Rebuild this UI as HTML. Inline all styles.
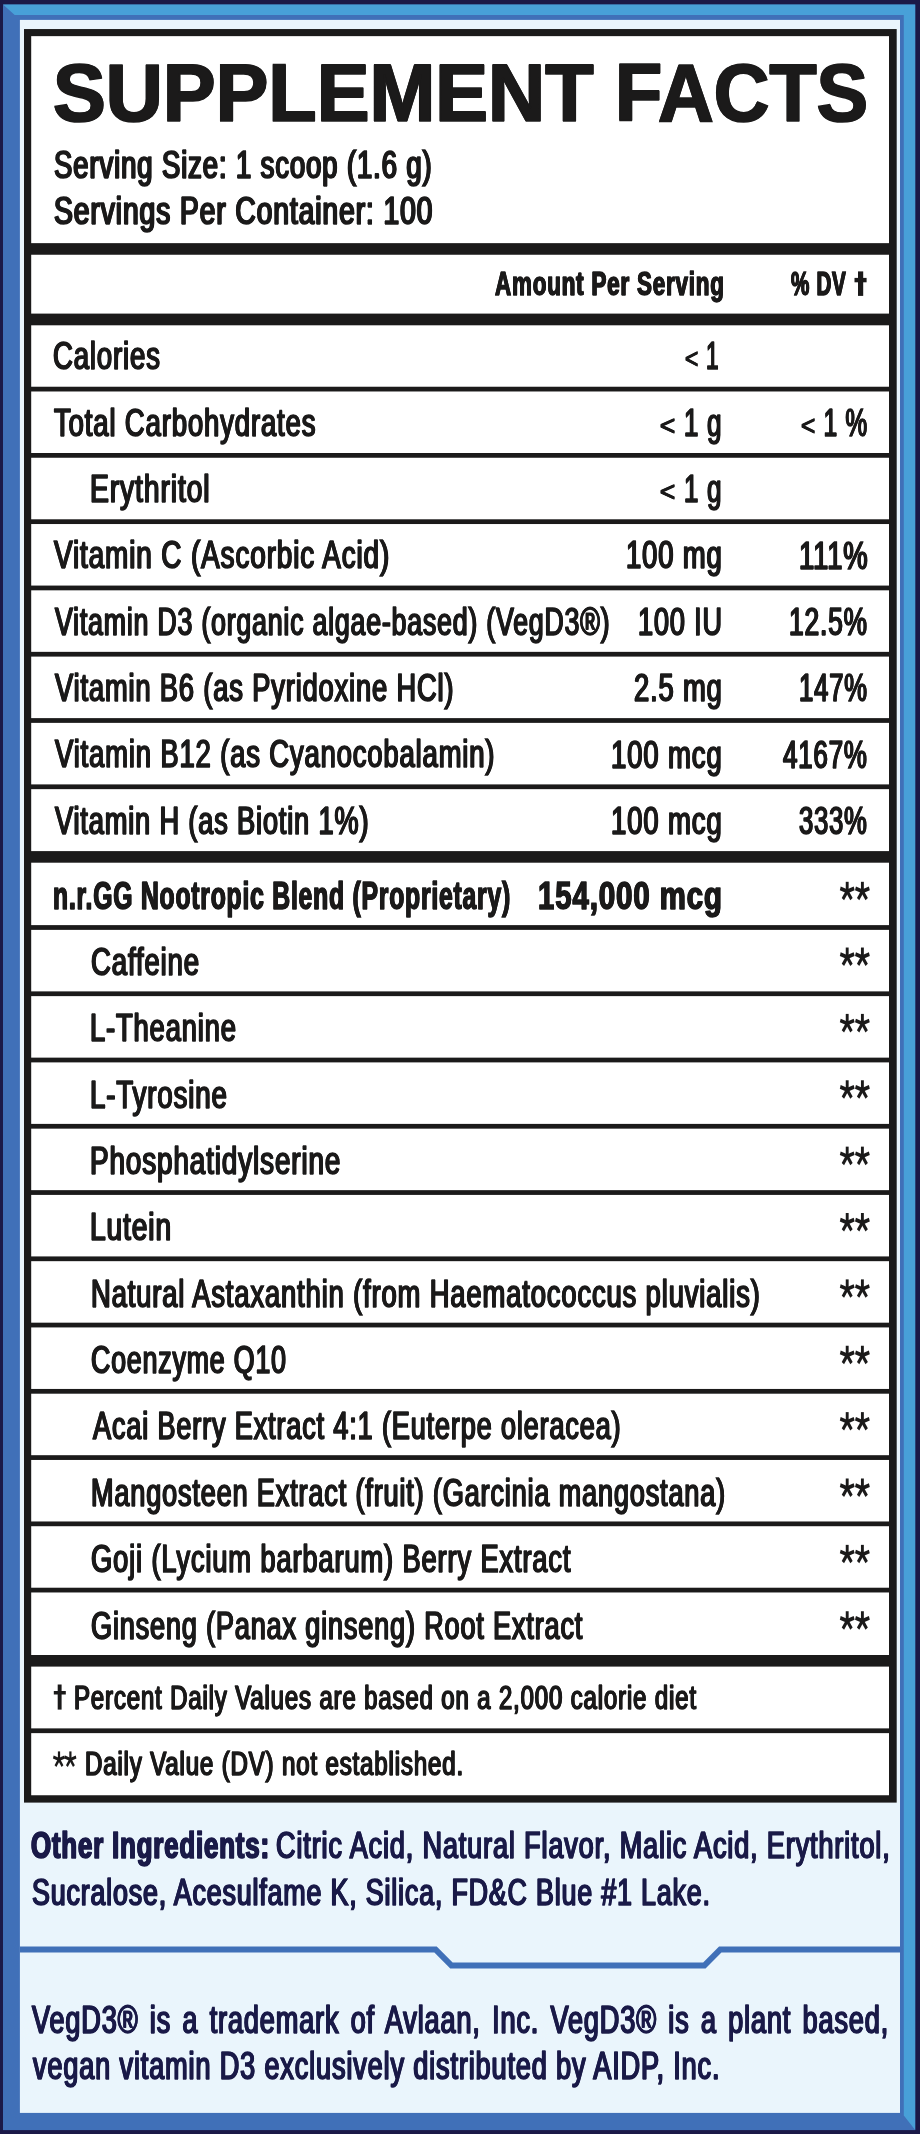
<!DOCTYPE html>
<html><head><meta charset="utf-8"><title>Supplement Facts</title>
<style>
html,body{margin:0;padding:0;}
body{width:920px;height:2134px;position:relative;overflow:hidden;background:#1b1948;font-family:"Liberation Sans",sans-serif;}
svg{position:absolute;left:0;top:0;}
#txt{position:absolute;left:0;top:0;width:920px;height:2134px;will-change:transform;}
.t{position:absolute;white-space:nowrap;line-height:1;transform-origin:0 0;margin:0;padding:0;}
</style></head><body>
<svg width="920" height="2134" viewBox="0 0 920 2134"><rect x="0" y="0" width="920" height="2134" fill="#1b1948"/><rect x="3" y="4.6" width="912.2" height="2125.5" fill="#4070b8"/><polygon points="3,4.6 915.2,4.6 915.2,2130.1 903.8,2115.5 903.8,15 14.7,15" fill="#48a0d8"/><rect x="19.9" y="19.9" width="880.1" height="2093" fill="#eaf5fc"/><polyline points="19.8,1949.5 435.5,1949.5 451.5,1965.6 704.3,1965.6 720.3,1949.5 900,1949.5" fill="none" stroke="#4070b8" stroke-width="6"/><rect x="24.0" y="29.05" width="872.7" height="1773.55" fill="#1b1a1a"/><rect x="31.2" y="36.15" width="857.8" height="1759.1" fill="#fff"/><rect x="30" y="386.73" width="860" height="4.75" fill="#1b1a1a"/><rect x="30" y="453.00" width="860" height="4.75" fill="#1b1a1a"/><rect x="30" y="519.29" width="860" height="4.75" fill="#1b1a1a"/><rect x="30" y="585.57" width="860" height="4.75" fill="#1b1a1a"/><rect x="30" y="651.85" width="860" height="4.75" fill="#1b1a1a"/><rect x="30" y="718.12" width="860" height="4.75" fill="#1b1a1a"/><rect x="30" y="784.40" width="860" height="4.75" fill="#1b1a1a"/><rect x="30" y="925.12" width="860" height="4.75" fill="#1b1a1a"/><rect x="30" y="991.38" width="860" height="4.75" fill="#1b1a1a"/><rect x="30" y="1057.64" width="860" height="4.75" fill="#1b1a1a"/><rect x="30" y="1123.90" width="860" height="4.75" fill="#1b1a1a"/><rect x="30" y="1190.16" width="860" height="4.75" fill="#1b1a1a"/><rect x="30" y="1256.42" width="860" height="4.75" fill="#1b1a1a"/><rect x="30" y="1322.68" width="860" height="4.75" fill="#1b1a1a"/><rect x="30" y="1388.95" width="860" height="4.75" fill="#1b1a1a"/><rect x="30" y="1455.20" width="860" height="4.75" fill="#1b1a1a"/><rect x="30" y="1521.47" width="860" height="4.75" fill="#1b1a1a"/><rect x="30" y="1587.72" width="860" height="4.75" fill="#1b1a1a"/><rect x="30" y="1728.38" width="860" height="4.75" fill="#1b1a1a"/><rect x="30" y="243.15" width="860" height="11.6" fill="#1b1a1a"/><rect x="30" y="313.60" width="860" height="11.7" fill="#1b1a1a"/><rect x="30" y="851.10" width="860" height="11.6" fill="#1b1a1a"/><rect x="30" y="1655.00" width="860" height="11.6" fill="#1b1a1a"/><g stroke="#1b1a1a" stroke-width="3.8" fill="none"><g transform="translate(847.20,891.40) scale(0.76,1)"><line x1="0" y1="0" x2="0.00" y2="-9.60"/><line x1="0" y1="0" x2="9.13" y2="-2.97"/><line x1="0" y1="0" x2="5.64" y2="7.77"/><line x1="0" y1="0" x2="-5.64" y2="7.77"/><line x1="0" y1="0" x2="-9.13" y2="-2.97"/></g><g transform="translate(862.40,891.40) scale(0.76,1)"><line x1="0" y1="0" x2="0.00" y2="-9.60"/><line x1="0" y1="0" x2="9.13" y2="-2.97"/><line x1="0" y1="0" x2="5.64" y2="7.77"/><line x1="0" y1="0" x2="-5.64" y2="7.77"/><line x1="0" y1="0" x2="-9.13" y2="-2.97"/></g><g transform="translate(847.20,957.13) scale(0.76,1)"><line x1="0" y1="0" x2="0.00" y2="-9.60"/><line x1="0" y1="0" x2="9.13" y2="-2.97"/><line x1="0" y1="0" x2="5.64" y2="7.77"/><line x1="0" y1="0" x2="-5.64" y2="7.77"/><line x1="0" y1="0" x2="-9.13" y2="-2.97"/></g><g transform="translate(862.40,957.13) scale(0.76,1)"><line x1="0" y1="0" x2="0.00" y2="-9.60"/><line x1="0" y1="0" x2="9.13" y2="-2.97"/><line x1="0" y1="0" x2="5.64" y2="7.77"/><line x1="0" y1="0" x2="-5.64" y2="7.77"/><line x1="0" y1="0" x2="-9.13" y2="-2.97"/></g><g transform="translate(847.20,1023.50) scale(0.76,1)"><line x1="0" y1="0" x2="0.00" y2="-9.60"/><line x1="0" y1="0" x2="9.13" y2="-2.97"/><line x1="0" y1="0" x2="5.64" y2="7.77"/><line x1="0" y1="0" x2="-5.64" y2="7.77"/><line x1="0" y1="0" x2="-9.13" y2="-2.97"/></g><g transform="translate(862.40,1023.50) scale(0.76,1)"><line x1="0" y1="0" x2="0.00" y2="-9.60"/><line x1="0" y1="0" x2="9.13" y2="-2.97"/><line x1="0" y1="0" x2="5.64" y2="7.77"/><line x1="0" y1="0" x2="-5.64" y2="7.77"/><line x1="0" y1="0" x2="-9.13" y2="-2.97"/></g><g transform="translate(847.20,1089.87) scale(0.76,1)"><line x1="0" y1="0" x2="0.00" y2="-9.60"/><line x1="0" y1="0" x2="9.13" y2="-2.97"/><line x1="0" y1="0" x2="5.64" y2="7.77"/><line x1="0" y1="0" x2="-5.64" y2="7.77"/><line x1="0" y1="0" x2="-9.13" y2="-2.97"/></g><g transform="translate(862.40,1089.87) scale(0.76,1)"><line x1="0" y1="0" x2="0.00" y2="-9.60"/><line x1="0" y1="0" x2="9.13" y2="-2.97"/><line x1="0" y1="0" x2="5.64" y2="7.77"/><line x1="0" y1="0" x2="-5.64" y2="7.77"/><line x1="0" y1="0" x2="-9.13" y2="-2.97"/></g><g transform="translate(847.20,1156.24) scale(0.76,1)"><line x1="0" y1="0" x2="0.00" y2="-9.60"/><line x1="0" y1="0" x2="9.13" y2="-2.97"/><line x1="0" y1="0" x2="5.64" y2="7.77"/><line x1="0" y1="0" x2="-5.64" y2="7.77"/><line x1="0" y1="0" x2="-9.13" y2="-2.97"/></g><g transform="translate(862.40,1156.24) scale(0.76,1)"><line x1="0" y1="0" x2="0.00" y2="-9.60"/><line x1="0" y1="0" x2="9.13" y2="-2.97"/><line x1="0" y1="0" x2="5.64" y2="7.77"/><line x1="0" y1="0" x2="-5.64" y2="7.77"/><line x1="0" y1="0" x2="-9.13" y2="-2.97"/></g><g transform="translate(847.20,1222.61) scale(0.76,1)"><line x1="0" y1="0" x2="0.00" y2="-9.60"/><line x1="0" y1="0" x2="9.13" y2="-2.97"/><line x1="0" y1="0" x2="5.64" y2="7.77"/><line x1="0" y1="0" x2="-5.64" y2="7.77"/><line x1="0" y1="0" x2="-9.13" y2="-2.97"/></g><g transform="translate(862.40,1222.61) scale(0.76,1)"><line x1="0" y1="0" x2="0.00" y2="-9.60"/><line x1="0" y1="0" x2="9.13" y2="-2.97"/><line x1="0" y1="0" x2="5.64" y2="7.77"/><line x1="0" y1="0" x2="-5.64" y2="7.77"/><line x1="0" y1="0" x2="-9.13" y2="-2.97"/></g><g transform="translate(847.20,1288.98) scale(0.76,1)"><line x1="0" y1="0" x2="0.00" y2="-9.60"/><line x1="0" y1="0" x2="9.13" y2="-2.97"/><line x1="0" y1="0" x2="5.64" y2="7.77"/><line x1="0" y1="0" x2="-5.64" y2="7.77"/><line x1="0" y1="0" x2="-9.13" y2="-2.97"/></g><g transform="translate(862.40,1288.98) scale(0.76,1)"><line x1="0" y1="0" x2="0.00" y2="-9.60"/><line x1="0" y1="0" x2="9.13" y2="-2.97"/><line x1="0" y1="0" x2="5.64" y2="7.77"/><line x1="0" y1="0" x2="-5.64" y2="7.77"/><line x1="0" y1="0" x2="-9.13" y2="-2.97"/></g><g transform="translate(847.20,1355.35) scale(0.76,1)"><line x1="0" y1="0" x2="0.00" y2="-9.60"/><line x1="0" y1="0" x2="9.13" y2="-2.97"/><line x1="0" y1="0" x2="5.64" y2="7.77"/><line x1="0" y1="0" x2="-5.64" y2="7.77"/><line x1="0" y1="0" x2="-9.13" y2="-2.97"/></g><g transform="translate(862.40,1355.35) scale(0.76,1)"><line x1="0" y1="0" x2="0.00" y2="-9.60"/><line x1="0" y1="0" x2="9.13" y2="-2.97"/><line x1="0" y1="0" x2="5.64" y2="7.77"/><line x1="0" y1="0" x2="-5.64" y2="7.77"/><line x1="0" y1="0" x2="-9.13" y2="-2.97"/></g><g transform="translate(847.20,1421.72) scale(0.76,1)"><line x1="0" y1="0" x2="0.00" y2="-9.60"/><line x1="0" y1="0" x2="9.13" y2="-2.97"/><line x1="0" y1="0" x2="5.64" y2="7.77"/><line x1="0" y1="0" x2="-5.64" y2="7.77"/><line x1="0" y1="0" x2="-9.13" y2="-2.97"/></g><g transform="translate(862.40,1421.72) scale(0.76,1)"><line x1="0" y1="0" x2="0.00" y2="-9.60"/><line x1="0" y1="0" x2="9.13" y2="-2.97"/><line x1="0" y1="0" x2="5.64" y2="7.77"/><line x1="0" y1="0" x2="-5.64" y2="7.77"/><line x1="0" y1="0" x2="-9.13" y2="-2.97"/></g><g transform="translate(847.20,1488.09) scale(0.76,1)"><line x1="0" y1="0" x2="0.00" y2="-9.60"/><line x1="0" y1="0" x2="9.13" y2="-2.97"/><line x1="0" y1="0" x2="5.64" y2="7.77"/><line x1="0" y1="0" x2="-5.64" y2="7.77"/><line x1="0" y1="0" x2="-9.13" y2="-2.97"/></g><g transform="translate(862.40,1488.09) scale(0.76,1)"><line x1="0" y1="0" x2="0.00" y2="-9.60"/><line x1="0" y1="0" x2="9.13" y2="-2.97"/><line x1="0" y1="0" x2="5.64" y2="7.77"/><line x1="0" y1="0" x2="-5.64" y2="7.77"/><line x1="0" y1="0" x2="-9.13" y2="-2.97"/></g><g transform="translate(847.20,1554.46) scale(0.76,1)"><line x1="0" y1="0" x2="0.00" y2="-9.60"/><line x1="0" y1="0" x2="9.13" y2="-2.97"/><line x1="0" y1="0" x2="5.64" y2="7.77"/><line x1="0" y1="0" x2="-5.64" y2="7.77"/><line x1="0" y1="0" x2="-9.13" y2="-2.97"/></g><g transform="translate(862.40,1554.46) scale(0.76,1)"><line x1="0" y1="0" x2="0.00" y2="-9.60"/><line x1="0" y1="0" x2="9.13" y2="-2.97"/><line x1="0" y1="0" x2="5.64" y2="7.77"/><line x1="0" y1="0" x2="-5.64" y2="7.77"/><line x1="0" y1="0" x2="-9.13" y2="-2.97"/></g><g transform="translate(847.20,1620.83) scale(0.76,1)"><line x1="0" y1="0" x2="0.00" y2="-9.60"/><line x1="0" y1="0" x2="9.13" y2="-2.97"/><line x1="0" y1="0" x2="5.64" y2="7.77"/><line x1="0" y1="0" x2="-5.64" y2="7.77"/><line x1="0" y1="0" x2="-9.13" y2="-2.97"/></g><g transform="translate(862.40,1620.83) scale(0.76,1)"><line x1="0" y1="0" x2="0.00" y2="-9.60"/><line x1="0" y1="0" x2="9.13" y2="-2.97"/><line x1="0" y1="0" x2="5.64" y2="7.77"/><line x1="0" y1="0" x2="-5.64" y2="7.77"/><line x1="0" y1="0" x2="-9.13" y2="-2.97"/></g></g><g stroke="#1b1a1a" stroke-width="3.0" fill="none"><g transform="translate(59.00,1759.50) scale(0.74,1)"><line x1="0" y1="0" x2="0.00" y2="-8.10"/><line x1="0" y1="0" x2="7.70" y2="-2.50"/><line x1="0" y1="0" x2="4.76" y2="6.55"/><line x1="0" y1="0" x2="-4.76" y2="6.55"/><line x1="0" y1="0" x2="-7.70" y2="-2.50"/></g><g transform="translate(70.40,1759.50) scale(0.74,1)"><line x1="0" y1="0" x2="0.00" y2="-8.10"/><line x1="0" y1="0" x2="7.70" y2="-2.50"/><line x1="0" y1="0" x2="4.76" y2="6.55"/><line x1="0" y1="0" x2="-4.76" y2="6.55"/><line x1="0" y1="0" x2="-7.70" y2="-2.50"/></g></g><g fill="#1b1a1a"><rect x="858" y="271.4" width="5.2" height="24.5"/><rect x="854.5" y="277.9" width="12.1" height="4.4"/><rect x="57.7" y="1684.5" width="3.9" height="25.1"/><rect x="53.8" y="1691" width="12" height="3.5"/></g></svg>
<div id="txt">
<div class="t" style="left:53.13px;top:50.94px;font-size:82.3px;transform:scaleX(0.9610);color:#1b1a1a;font-weight:bold;text-shadow:1.0px 0 0 #1b1a1a,-1.0px 0 0 #1b1a1a;-webkit-text-stroke:1.7px #1b1a1a;">SUPPLEMENT</div>
<div class="t" style="left:615.10px;top:50.94px;font-size:82.3px;transform:scaleX(0.9382);color:#1b1a1a;font-weight:bold;text-shadow:1.0px 0 0 #1b1a1a,-1.0px 0 0 #1b1a1a;-webkit-text-stroke:1.7px #1b1a1a;">FACTS</div>
<div class="t" style="left:54.09px;top:146.30px;font-size:38.3px;transform:scaleX(0.7189);color:#1b1a1a;letter-spacing:1.2px;text-shadow:1.2px 0 0 #1b1a1a,-1.2px 0 0 #1b1a1a;-webkit-text-stroke:1.7px #1b1a1a;">Serving Size: 1 scoop (1.6 g)</div>
<div class="t" style="left:53.63px;top:191.63px;font-size:38.3px;transform:scaleX(0.7387);color:#1b1a1a;letter-spacing:1.2px;text-shadow:1.2px 0 0 #1b1a1a,-1.2px 0 0 #1b1a1a;-webkit-text-stroke:1.7px #1b1a1a;">Servings Per Container: 100</div>
<div class="t" style="left:495.10px;top:267.01px;font-size:33.6px;transform:scaleX(0.6669);color:#1b1a1a;font-weight:bold;letter-spacing:1.2px;text-shadow:0.8px 0 0 #1b1a1a,-0.8px 0 0 #1b1a1a;-webkit-text-stroke:1.3px #1b1a1a;">Amount Per Serving</div>
<div class="t" style="left:790.54px;top:267.01px;font-size:33.6px;transform:scaleX(0.6129);color:#1b1a1a;font-weight:bold;letter-spacing:1.2px;text-shadow:0.8px 0 0 #1b1a1a,-0.8px 0 0 #1b1a1a;-webkit-text-stroke:1.3px #1b1a1a;">% DV</div>
<div class="t" style="left:52.71px;top:336.59px;font-size:38.5px;transform:scaleX(0.7144);color:#1b1a1a;letter-spacing:1.2px;text-shadow:0.95px 0 0 #1b1a1a,-0.95px 0 0 #1b1a1a;-webkit-text-stroke:1.5px #1b1a1a;">Calories</div>
<div class="t" style="left:684.75px;top:336.59px;font-size:38.5px;transform:scaleX(0.5900);color:#1b1a1a;letter-spacing:1.2px;text-shadow:0.95px 0 0 #1b1a1a,-0.95px 0 0 #1b1a1a;-webkit-text-stroke:1.5px #1b1a1a;"><span style="display:inline-block;transform-origin:0 84.65%;transform:translateY(-1.3px) scaleY(0.72)">&lt;</span> 1</div>
<div class="t" style="left:53.80px;top:403.58px;font-size:38.5px;transform:scaleX(0.7142);color:#1b1a1a;letter-spacing:1.2px;text-shadow:0.95px 0 0 #1b1a1a,-0.95px 0 0 #1b1a1a;-webkit-text-stroke:1.5px #1b1a1a;">Total Carbohydrates</div>
<div class="t" style="left:660.23px;top:403.69px;font-size:38.5px;transform:scaleX(0.6719);color:#1b1a1a;letter-spacing:1.2px;text-shadow:0.95px 0 0 #1b1a1a,-0.95px 0 0 #1b1a1a;-webkit-text-stroke:1.5px #1b1a1a;"><span style="display:inline-block;transform-origin:0 84.65%;transform:translateY(-1.3px) scaleY(0.72)">&lt;</span> 1 g</div>
<div class="t" style="left:801.03px;top:403.78px;font-size:38.5px;transform:scaleX(0.6338);color:#1b1a1a;letter-spacing:1.2px;text-shadow:0.95px 0 0 #1b1a1a,-0.95px 0 0 #1b1a1a;-webkit-text-stroke:1.5px #1b1a1a;"><span style="display:inline-block;transform-origin:0 84.65%;transform:translateY(-1.3px) scaleY(0.72)">&lt;</span> 1 %</div>
<div class="t" style="left:90.04px;top:470.32px;font-size:38.5px;transform:scaleX(0.7350);color:#1b1a1a;letter-spacing:1.2px;text-shadow:0.95px 0 0 #1b1a1a,-0.95px 0 0 #1b1a1a;-webkit-text-stroke:1.5px #1b1a1a;">Erythritol</div>
<div class="t" style="left:660.23px;top:470.43px;font-size:38.5px;transform:scaleX(0.6719);color:#1b1a1a;letter-spacing:1.2px;text-shadow:0.95px 0 0 #1b1a1a,-0.95px 0 0 #1b1a1a;-webkit-text-stroke:1.5px #1b1a1a;"><span style="display:inline-block;transform-origin:0 84.65%;transform:translateY(-1.3px) scaleY(0.72)">&lt;</span> 1 g</div>
<div class="t" style="left:54.24px;top:535.70px;font-size:38.5px;transform:scaleX(0.7250);color:#1b1a1a;letter-spacing:1.2px;text-shadow:0.95px 0 0 #1b1a1a,-0.95px 0 0 #1b1a1a;-webkit-text-stroke:1.5px #1b1a1a;">Vitamin C (Ascorbic Acid)</div>
<div class="t" style="left:626.00px;top:535.70px;font-size:38.5px;transform:scaleX(0.7122);color:#1b1a1a;letter-spacing:1.2px;text-shadow:0.95px 0 0 #1b1a1a,-0.95px 0 0 #1b1a1a;-webkit-text-stroke:1.5px #1b1a1a;">100 mg</div>
<div class="t" style="left:798.50px;top:536.81px;font-size:38.5px;transform:scaleX(0.7124);color:#1b1a1a;letter-spacing:1.2px;text-shadow:0.95px 0 0 #1b1a1a,-0.95px 0 0 #1b1a1a;-webkit-text-stroke:1.5px #1b1a1a;">111%</div>
<div class="t" style="left:54.68px;top:602.80px;font-size:38.5px;transform:scaleX(0.6922);color:#1b1a1a;letter-spacing:1.2px;text-shadow:0.95px 0 0 #1b1a1a,-0.95px 0 0 #1b1a1a;-webkit-text-stroke:1.5px #1b1a1a;">Vitamin D3 (organic algae-based) (VegD3®)</div>
<div class="t" style="left:637.53px;top:603.00px;font-size:38.5px;transform:scaleX(0.7032);color:#1b1a1a;letter-spacing:1.2px;text-shadow:0.95px 0 0 #1b1a1a,-0.95px 0 0 #1b1a1a;-webkit-text-stroke:1.5px #1b1a1a;">100 IU</div>
<div class="t" style="left:788.55px;top:603.00px;font-size:38.5px;transform:scaleX(0.6850);color:#1b1a1a;letter-spacing:1.2px;text-shadow:0.95px 0 0 #1b1a1a,-0.95px 0 0 #1b1a1a;-webkit-text-stroke:1.5px #1b1a1a;">12.5%</div>
<div class="t" style="left:54.70px;top:668.65px;font-size:38.5px;transform:scaleX(0.7084);color:#1b1a1a;letter-spacing:1.2px;text-shadow:0.95px 0 0 #1b1a1a,-0.95px 0 0 #1b1a1a;-webkit-text-stroke:1.5px #1b1a1a;">Vitamin B6 (as Pyridoxine HCl)</div>
<div class="t" style="left:633.93px;top:668.85px;font-size:38.5px;transform:scaleX(0.7098);color:#1b1a1a;letter-spacing:1.2px;text-shadow:0.95px 0 0 #1b1a1a,-0.95px 0 0 #1b1a1a;-webkit-text-stroke:1.5px #1b1a1a;">2.5 mg</div>
<div class="t" style="left:798.57px;top:669.03px;font-size:38.5px;transform:scaleX(0.6668);color:#1b1a1a;letter-spacing:1.2px;text-shadow:0.95px 0 0 #1b1a1a,-0.95px 0 0 #1b1a1a;-webkit-text-stroke:1.5px #1b1a1a;">147%</div>
<div class="t" style="left:54.71px;top:734.81px;font-size:38.5px;transform:scaleX(0.7119);color:#1b1a1a;letter-spacing:1.2px;text-shadow:0.95px 0 0 #1b1a1a,-0.95px 0 0 #1b1a1a;-webkit-text-stroke:1.5px #1b1a1a;">Vitamin B12 (as Cyanocobalamin)</div>
<div class="t" style="left:610.99px;top:735.96px;font-size:38.5px;transform:scaleX(0.7150);color:#1b1a1a;letter-spacing:1.2px;text-shadow:0.95px 0 0 #1b1a1a,-0.95px 0 0 #1b1a1a;-webkit-text-stroke:1.5px #1b1a1a;">100 mcg</div>
<div class="t" style="left:783.24px;top:736.14px;font-size:38.5px;transform:scaleX(0.6728);color:#1b1a1a;letter-spacing:1.2px;text-shadow:0.95px 0 0 #1b1a1a,-0.95px 0 0 #1b1a1a;-webkit-text-stroke:1.5px #1b1a1a;">4167%</div>
<div class="t" style="left:54.70px;top:802.02px;font-size:38.5px;transform:scaleX(0.7059);color:#1b1a1a;letter-spacing:1.2px;text-shadow:0.95px 0 0 #1b1a1a,-0.95px 0 0 #1b1a1a;-webkit-text-stroke:1.5px #1b1a1a;">Vitamin H (as Biotin 1%)</div>
<div class="t" style="left:610.99px;top:802.13px;font-size:38.5px;transform:scaleX(0.7150);color:#1b1a1a;letter-spacing:1.2px;text-shadow:0.95px 0 0 #1b1a1a,-0.95px 0 0 #1b1a1a;-webkit-text-stroke:1.5px #1b1a1a;">100 mcg</div>
<div class="t" style="left:799.33px;top:802.22px;font-size:38.5px;transform:scaleX(0.6643);color:#1b1a1a;letter-spacing:1.2px;text-shadow:0.95px 0 0 #1b1a1a,-0.95px 0 0 #1b1a1a;-webkit-text-stroke:1.5px #1b1a1a;">333%</div>
<div class="t" style="left:53.48px;top:876.61px;font-size:38.2px;transform:scaleX(0.6476);color:#1b1a1a;font-weight:bold;letter-spacing:1.2px;text-shadow:0.8px 0 0 #1b1a1a,-0.8px 0 0 #1b1a1a;-webkit-text-stroke:1.3px #1b1a1a;">n.r.GG Nootropic Blend (Proprietary)</div>
<div class="t" style="left:538.28px;top:876.61px;font-size:38.2px;transform:scaleX(0.7690);color:#1b1a1a;font-weight:bold;letter-spacing:1.2px;text-shadow:0.8px 0 0 #1b1a1a,-0.8px 0 0 #1b1a1a;-webkit-text-stroke:1.3px #1b1a1a;">154,000 mcg</div>
<div class="t" style="left:91.33px;top:943.13px;font-size:38.5px;transform:scaleX(0.7152);color:#1b1a1a;letter-spacing:1.2px;text-shadow:0.95px 0 0 #1b1a1a,-0.95px 0 0 #1b1a1a;-webkit-text-stroke:1.5px #1b1a1a;">Caffeine</div>
<div class="t" style="left:90.31px;top:1008.56px;font-size:38.5px;transform:scaleX(0.7098);color:#1b1a1a;letter-spacing:1.2px;text-shadow:0.95px 0 0 #1b1a1a,-0.95px 0 0 #1b1a1a;-webkit-text-stroke:1.5px #1b1a1a;">L-Theanine</div>
<div class="t" style="left:90.48px;top:1075.52px;font-size:38.5px;transform:scaleX(0.7185);color:#1b1a1a;letter-spacing:1.2px;text-shadow:0.95px 0 0 #1b1a1a,-0.95px 0 0 #1b1a1a;-webkit-text-stroke:1.5px #1b1a1a;">L-Tyrosine</div>
<div class="t" style="left:90.35px;top:1142.26px;font-size:38.5px;transform:scaleX(0.7242);color:#1b1a1a;letter-spacing:1.2px;text-shadow:0.95px 0 0 #1b1a1a,-0.95px 0 0 #1b1a1a;-webkit-text-stroke:1.5px #1b1a1a;">Phosphatidylserine</div>
<div class="t" style="left:89.74px;top:1207.67px;font-size:38.5px;transform:scaleX(0.7314);color:#1b1a1a;letter-spacing:1.2px;text-shadow:0.95px 0 0 #1b1a1a,-0.95px 0 0 #1b1a1a;-webkit-text-stroke:1.5px #1b1a1a;">Lutein</div>
<div class="t" style="left:90.88px;top:1274.74px;font-size:38.5px;transform:scaleX(0.7112);color:#1b1a1a;letter-spacing:1.2px;text-shadow:0.95px 0 0 #1b1a1a,-0.95px 0 0 #1b1a1a;-webkit-text-stroke:1.5px #1b1a1a;">Natural Astaxanthin (from Haematococcus pluvialis)</div>
<div class="t" style="left:91.16px;top:1340.76px;font-size:38.5px;transform:scaleX(0.6946);color:#1b1a1a;letter-spacing:1.2px;text-shadow:0.95px 0 0 #1b1a1a,-0.95px 0 0 #1b1a1a;-webkit-text-stroke:1.5px #1b1a1a;">Coenzyme Q10</div>
<div class="t" style="left:92.60px;top:1406.78px;font-size:38.5px;transform:scaleX(0.7036);color:#1b1a1a;letter-spacing:1.2px;text-shadow:0.95px 0 0 #1b1a1a,-0.95px 0 0 #1b1a1a;-webkit-text-stroke:1.5px #1b1a1a;">Acai Berry Extract 4:1 (Euterpe oleracea)</div>
<div class="t" style="left:90.89px;top:1473.96px;font-size:38.5px;transform:scaleX(0.7034);color:#1b1a1a;letter-spacing:1.2px;text-shadow:0.95px 0 0 #1b1a1a,-0.95px 0 0 #1b1a1a;-webkit-text-stroke:1.5px #1b1a1a;">Mangosteen Extract (fruit) (Garcinia mangostana)</div>
<div class="t" style="left:91.13px;top:1539.52px;font-size:38.5px;transform:scaleX(0.7093);color:#1b1a1a;letter-spacing:1.2px;text-shadow:0.95px 0 0 #1b1a1a,-0.95px 0 0 #1b1a1a;-webkit-text-stroke:1.5px #1b1a1a;">Goji (Lycium barbarum) Berry Extract</div>
<div class="t" style="left:91.15px;top:1607.00px;font-size:38.5px;transform:scaleX(0.7030);color:#1b1a1a;letter-spacing:1.2px;text-shadow:0.95px 0 0 #1b1a1a,-0.95px 0 0 #1b1a1a;-webkit-text-stroke:1.5px #1b1a1a;">Ginseng (Panax ginseng) Root Extract</div>
<div class="t" style="left:73.91px;top:1680.51px;font-size:33.6px;transform:scaleX(0.7140);color:#1b1a1a;letter-spacing:1.2px;text-shadow:0.95px 0 0 #1b1a1a,-0.95px 0 0 #1b1a1a;-webkit-text-stroke:1.3px #1b1a1a;">Percent Daily Values are based on a 2,000 calorie diet</div>
<div class="t" style="left:84.67px;top:1747.11px;font-size:33.6px;transform:scaleX(0.7153);color:#1b1a1a;letter-spacing:1.2px;text-shadow:0.95px 0 0 #1b1a1a,-0.95px 0 0 #1b1a1a;-webkit-text-stroke:1.3px #1b1a1a;">Daily Value (DV) not established.</div>
<div class="t" style="left:31.44px;top:1826.72px;font-size:37.6px;transform:scaleX(0.6878);color:#1a1a48;font-weight:bold;letter-spacing:1.2px;text-shadow:1.0px 0 0 #1a1a48,-1.0px 0 0 #1a1a48;-webkit-text-stroke:1.6px #1a1a48;">Other Ingredients:</div>
<div class="t" style="left:276.35px;top:1826.77px;font-size:37.6px;transform:scaleX(0.7198);color:#1a1a48;letter-spacing:1.2px;text-shadow:0.95px 0 0 #1a1a48,-0.95px 0 0 #1a1a48;-webkit-text-stroke:1.5px #1a1a48;">Citric Acid, Natural Flavor, Malic Acid, Erythritol,</div>
<div class="t" style="left:31.81px;top:1874.07px;font-size:37.6px;transform:scaleX(0.7123);color:#1a1a48;letter-spacing:1.2px;text-shadow:0.95px 0 0 #1a1a48,-0.95px 0 0 #1a1a48;-webkit-text-stroke:1.5px #1a1a48;">Sucralose, Acesulfame K, Silica, FD&amp;C Blue #1 Lake.</div>
<div class="t" style="left:31.88px;top:2000.78px;font-size:38px;transform:scaleX(0.7131);color:#1a1a48;word-spacing:4.14px;letter-spacing:1.2px;text-shadow:0.95px 0 0 #1a1a48,-0.95px 0 0 #1a1a48;-webkit-text-stroke:1.5px #1a1a48;">VegD3® is a trademark of Avlaan, Inc. VegD3® is a plant based,</div>
<div class="t" style="left:33.22px;top:2047.08px;font-size:38px;transform:scaleX(0.7131);color:#1a1a48;letter-spacing:1.2px;text-shadow:0.95px 0 0 #1a1a48,-0.95px 0 0 #1a1a48;-webkit-text-stroke:1.5px #1a1a48;">vegan vitamin D3 exclusively distributed by AIDP, Inc.</div>
</div>
</body></html>
